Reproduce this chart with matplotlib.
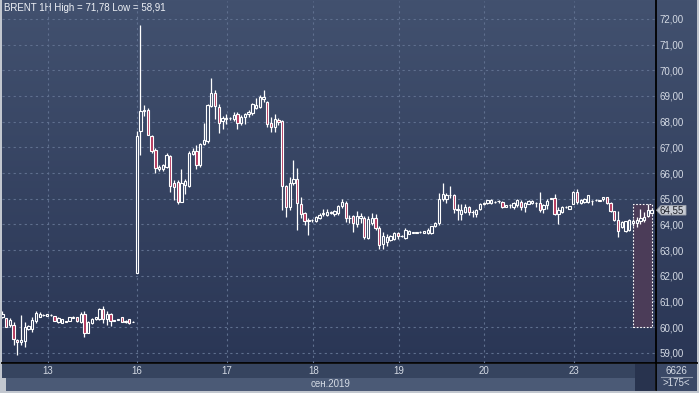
import numpy as np
import matplotlib
matplotlib.use('Agg')
import matplotlib.pyplot as plt
from matplotlib.colors import LinearSegmentedColormap
from matplotlib.patches import Rectangle, Polygon

plt.rcParams['font.family'] = ['Liberation Sans', 'DejaVu Sans']

# BRENT 1H, hourly candles (Sep 12 evening .. Sep 24)
opens = [
    60.40, 60.34, 60.08, 60.08, 59.49, 59.42, 59.46, 59.91, 59.91, 60.25, 60.41, 60.47, 60.45, 60.47,
    60.43, 60.21, 60.17, 60.22, 60.25, 60.36, 60.38, 60.21, 60.51, 59.78, 60.14, 60.30, 60.30, 60.70,
    60.30, 60.51, 60.25, 60.29, 60.38, 60.20, 60.30, 60.20,
    62.10, 67.63, 68.42, 68.46, 67.46, 66.88, 66.14, 66.14, 66.25, 66.67, 65.62, 65.66, 64.87, 65.53,
    65.49, 66.75, 66.84, 66.32, 67.14, 67.24, 68.62, 69.12, 68.59, 68.03, 68.12, 68.13, 68.12, 68.29,
    67.96, 68.19, 68.29, 68.32, 68.52, 68.56, 68.87, 68.78, 67.94, 67.78, 68.06, 68.03, 65.49, 64.69,
    65.62, 65.75, 64.79, 64.43, 64.14, 64.16, 64.14, 64.24, 64.41, 64.37, 64.46, 64.41, 64.44, 64.71,
    64.84, 64.24, 64.33, 64.01, 64.24, 64.24, 63.48, 64.07, 64.24, 63.84, 63.24, 63.31, 63.40, 63.44,
    63.67, 63.53, 63.48, 63.64, 63.68, 63.68, 63.70, 63.67, 63.67, 63.67, 63.93, 64.04, 64.97, 65.00,
    65.13, 65.13, 64.61, 64.42, 64.48, 64.68, 64.48, 64.42, 64.61, 64.80, 64.83, 64.83, 64.87, 64.90,
    64.87, 64.68, 64.74, 64.68, 64.74, 64.87, 64.68, 64.81, 64.83, 64.83, 64.83, 64.61, 64.74, 65.00,
    65.04, 64.42, 64.48, 64.68, 64.61, 64.81, 65.26, 64.83, 64.87, 64.87, 64.91, 64.93, 64.92, 64.99,
    65.05, 64.84, 64.51, 64.17, 63.88, 63.75, 63.78, 64.04, 64.04, 64.12, 64.17, 64.34, 64.43,
]
highs = [
    60.61, 60.36, 60.34, 60.21, 59.55, 60.47, 60.21, 60.08, 60.41, 60.61, 60.57, 60.51, 60.52, 60.49,
    60.45, 60.41, 60.32, 60.25, 60.40, 60.43, 60.41, 60.57, 60.61, 60.25, 60.34, 60.41, 60.74, 60.83,
    60.61, 60.54, 60.28, 60.33, 60.41, 60.27, 60.32, 60.23,
    67.63, 71.78, 68.64, 68.55, 67.50, 66.97, 66.30, 66.36, 66.78, 66.71, 65.72, 65.72, 66.14, 65.75,
    66.84, 66.97, 67.11, 67.17, 67.96, 68.68, 69.70, 69.25, 68.68, 68.22, 68.29, 68.20, 68.38, 68.38,
    68.26, 68.35, 68.45, 68.74, 68.91, 69.04, 69.23, 68.82, 68.19, 68.30, 68.13, 68.06, 65.53, 65.86,
    66.51, 66.18, 65.08, 64.49, 64.23, 64.20, 64.33, 64.44, 64.60, 64.60, 64.52, 64.57, 64.77, 65.00,
    64.91, 64.37, 64.37, 64.51, 64.44, 64.31, 64.33, 64.44, 64.41, 63.93, 63.71, 63.61, 63.58, 63.71,
    63.71, 63.58, 63.84, 63.78, 63.72, 63.72, 63.74, 63.76, 63.84, 63.95, 64.11, 65.24, 65.61, 65.24,
    65.51, 65.17, 64.81, 64.81, 64.81, 64.70, 64.57, 64.61, 64.83, 64.86, 64.96, 64.98, 64.91, 64.96,
    64.91, 64.76, 64.81, 64.87, 65.00, 64.94, 64.87, 64.93, 64.93, 64.87, 65.26, 64.81, 65.00, 65.04,
    65.17, 64.68, 64.70, 64.72, 64.72, 65.28, 65.39, 64.98, 65.03, 65.15, 64.96, 64.97, 64.96, 65.08,
    65.07, 64.86, 64.53, 64.51, 64.12, 64.15, 64.21, 64.20, 64.27, 64.60, 64.47, 64.80, 64.62,
]
lows = [
    60.34, 60.00, 60.01, 59.29, 58.91, 59.29, 59.22, 59.88, 59.82, 60.14, 60.38, 60.43, 60.43, 60.45,
    60.24, 60.14, 60.15, 60.18, 60.24, 60.34, 60.21, 60.14, 59.62, 59.75, 60.10, 60.28, 60.28, 60.14,
    60.08, 60.04, 60.22, 60.27, 60.18, 60.17, 60.12, 60.18,
    62.10, 66.71, 68.22, 67.50, 66.78, 65.99, 66.09, 66.09, 66.18, 65.26, 64.93, 64.80, 64.87, 65.17,
    65.46, 66.71, 66.14, 66.25, 67.11, 67.17, 68.59, 68.09, 67.57, 67.70, 67.90, 68.08, 68.03, 67.70,
    67.87, 67.91, 68.19, 68.26, 68.48, 68.52, 68.78, 67.81, 67.61, 67.61, 67.87, 64.56, 64.30, 64.56,
    65.53, 63.78, 64.23, 63.97, 63.58, 64.10, 64.10, 64.20, 64.31, 64.31, 64.41, 64.33, 64.37, 64.64,
    64.11, 64.04, 63.71, 63.91, 64.04, 63.44, 63.43, 63.97, 63.77, 63.04, 63.04, 63.17, 63.37, 63.40,
    63.44, 63.50, 63.44, 63.61, 63.65, 63.65, 63.67, 63.65, 63.64, 63.64, 63.91, 63.97, 64.91, 64.84,
    65.04, 64.44, 64.16, 64.16, 64.44, 64.35, 64.29, 64.29, 64.55, 64.77, 64.81, 64.81, 64.85, 64.83,
    64.65, 64.66, 64.65, 64.61, 64.68, 64.55, 64.48, 64.79, 64.81, 64.68, 64.48, 64.44, 64.61, 64.97,
    64.35, 64.03, 64.44, 64.65, 64.59, 64.79, 64.81, 64.81, 64.85, 64.85, 64.77, 64.91, 64.90, 64.92,
    64.80, 64.47, 64.12, 63.49, 63.85, 63.72, 63.75, 63.95, 63.88, 64.01, 64.08, 64.27, 64.40,
]
closes = [
    60.50, 60.01, 60.28, 59.55, 59.42, 59.51, 60.01, 60.04, 60.28, 60.54, 60.51, 60.48, 60.51, 60.47,
    60.25, 60.34, 60.30, 60.21, 60.38, 60.41, 60.24, 60.51, 59.78, 60.21, 60.30, 60.38, 60.70, 60.30,
    60.51, 60.25, 60.26, 60.30, 60.21, 60.25, 60.14, 60.21,
    67.43, 68.42, 68.46, 67.50, 66.84, 66.18, 66.25, 66.30, 66.71, 65.49, 65.46, 64.87, 65.62, 65.67,
    66.78, 66.87, 66.32, 67.14, 67.30, 68.64, 69.12, 68.62, 67.93, 68.14, 68.13, 68.14, 68.25, 67.96,
    68.19, 68.29, 68.39, 68.68, 68.65, 68.95, 68.95, 67.91, 67.78, 68.09, 68.00, 65.49, 64.69, 65.60,
    65.75, 64.82, 64.40, 64.14, 64.15, 64.17, 64.30, 64.37, 64.42, 64.48, 64.47, 64.51, 64.73, 64.87,
    64.24, 64.25, 64.04, 64.33, 64.33, 63.51, 64.20, 64.24, 63.84, 63.21, 63.53, 63.51, 63.53, 63.67,
    63.53, 63.54, 63.77, 63.75, 63.69, 63.69, 63.71, 63.73, 63.77, 63.93, 64.07, 65.00, 65.17, 65.13,
    65.14, 64.60, 64.55, 64.55, 64.68, 64.48, 64.49, 64.57, 64.81, 64.81, 64.94, 64.96, 64.88, 64.91,
    64.68, 64.74, 64.75, 64.83, 64.94, 64.68, 64.83, 64.91, 64.91, 64.84, 64.57, 64.74, 64.91, 65.01,
    64.42, 64.55, 64.68, 64.69, 64.70, 65.26, 64.87, 64.96, 65.00, 65.13, 64.92, 64.94, 64.93, 65.05,
    64.82, 64.51, 64.17, 63.75, 64.08, 64.12, 64.17, 64.14, 64.17, 64.25, 64.27, 64.56, 64.55,
]

day_labels = ['13', '16', '17', '18', '19', '20', '23']
day_pos = [12.2, 36.1, 60.2, 83.3, 106.3, 129.1, 153.3]
y_ticks = list(range(59, 73))
month_label = 'сен.2019'
title = 'BRENT 1H High = 71,78 Low = 58,91'
last_price = closes[-1]
bars_count = '6626'
visible_count = '>175<'
# selection box on the last bars
sel_start, sel_end = 169.1, 174.0
sel_low, sel_high = 60.0, 64.78

W, H = 699, 393
BG_TOP, BG_BOT = '#42516f', '#2a3655'
DOWN_FILL = '#b4375c'
GRID = '#5f6f8e'
LABEL = '#d4dae4'

fig = plt.figure(figsize=(W / 100, H / 100), dpi=100)
fig.patch.set_facecolor('#c2c7cf')

# background layer in pixel coords
bg = fig.add_axes([0, 0, 1, 1], zorder=0)
bg.set_xlim(0, W)
bg.set_ylim(H, 0)
bg.axis('off')
grad = np.linspace(0, 1, 256).reshape(-1, 1)
cmap = LinearSegmentedColormap.from_list('bg', [BG_TOP, BG_BOT])
bg.imshow(grad, extent=(2, 697, 363, 0), aspect='auto', cmap=cmap, zorder=0)
bg.add_patch(Rectangle((2, 363.5), 633, 14, color='#36445f', lw=0, zorder=1))
bg.add_patch(Rectangle((6, 377.5), 629, 13, color='#4b5a76', lw=0, zorder=1))
bg.add_patch(Rectangle((635, 363.5), 20, 27, color='#28334e', lw=0, zorder=1))
bg.add_patch(Rectangle((655.5, 363.5), 41.5, 27, color='#3a4866', lw=0, zorder=1))
bg.plot([2, 697], [363, 363], color='black', lw=1.3, zorder=2)
bg.plot([655.5, 655.5], [0, 390], color='black', lw=1.3, zorder=2)
bg.plot([661, 692], [377, 377], color='#8e98ab', lw=0.8, zorder=2)
bg.text(331, 384, month_label, color=LABEL, fontsize=7, ha='center', va='center')
bg.text(676, 370.5, bars_count, color=LABEL, fontsize=7, ha='center', va='center')
bg.text(676, 383.5, visible_count, color=LABEL, fontsize=7, ha='center', va='center')
bg.text(4, 8, title, color='#eef1f6', fontsize=7, ha='left', va='center')

# main chart
ax = fig.add_axes([2 / W, 1 - 363 / H, 653 / W, 362 / H], zorder=1)
ax.patch.set_alpha(0)
for s in ax.spines.values():
    s.set_visible(False)

o = np.array(opens)
h = np.array(highs)
l = np.array(lows)
c = np.array(closes)
x = np.arange(len(o))
top = np.maximum(o, c)
bot = np.minimum(o, c)
hgt = np.maximum(top - bot, 0.015)
# hollow up candles show the background through them
frac = 1 - (top + bot) / 2
frac = (72.70 - (top + bot) / 2) / (72.70 - 58.60)
bg_cmap = LinearSegmentedColormap.from_list('bgc', [BG_TOP, BG_BOT])
fills = [bg_cmap(f) if cc >= oo else DOWN_FILL for oo, cc, f in zip(o, c, frac)]

ax.add_patch(Rectangle((sel_start, sel_low), sel_end - sel_start, sel_high - sel_low,
                       facecolor='#4b3c58', edgecolor='white', lw=0.8,
                       linestyle=(0, (1.5, 1.5)), zorder=2))
ax.vlines(x, top, h, color='white', lw=0.9, zorder=3)
ax.vlines(x, l, bot, color='white', lw=0.9, zorder=3)
ax.bar(x, hgt, bottom=bot, width=0.62, color=fills, edgecolor='white', linewidth=0.8, zorder=4)

ax.set_xlim(-0.1, 174.9)
ax.set_ylim(58.60, 72.70)
ax.set_xticks(day_pos)
ax.set_xticklabels(day_labels)
ax.yaxis.tick_right()
ax.set_yticks(y_ticks)
ax.set_yticklabels([f'{v:.2f}'.replace('.', ',') for v in y_ticks])
ax.tick_params(axis='x', length=0, pad=2.5, colors=LABEL, labelsize=7)
ax.tick_params(axis='y', length=0, pad=3, colors=LABEL, labelsize=7)
ax.grid(True, color=GRID, linestyle=(0, (2, 3)), linewidth=0.8, zorder=1)
ax.set_axisbelow(True)


# last price marker on the right scale
def ax_x(px):
    return (px - 2) / 653


dy = 4.8 / 25.67
ax.add_patch(Polygon([(ax_x(656.5), last_price), (ax_x(661), last_price + dy),
                      (ax_x(686), last_price + dy), (ax_x(686), last_price - dy),
                      (ax_x(661), last_price - dy)], closed=True,
                     transform=ax.get_yaxis_transform(), facecolor='#c6cad2',
                     edgecolor='#9aa0aa', lw=0.6, clip_on=False, zorder=6))
ax.text(ax_x(660), last_price, f'{last_price:.2f}'.replace('.', ','),
        transform=ax.get_yaxis_transform(), color='#1c1f26', fontsize=7,
        ha='left', va='center', clip_on=False, zorder=7)

fig.savefig('out.png', dpi=100)
